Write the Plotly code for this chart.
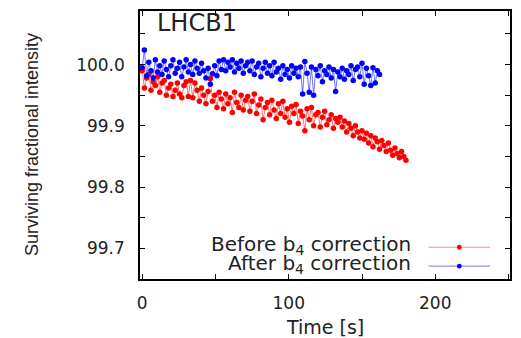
import plotly.graph_objects as go

# ---- data ----
t_before = [i * 1.5 for i in range(121)]          # 0 .. 180 s
before = [99.990, 99.962, 99.978, 99.984, 99.958, 99.972, 99.966, 99.980, 99.955, 99.970,
          99.974, 99.950, 99.962, 99.968, 99.948, 99.958, 99.970, 99.952, 99.946, 99.966,
          99.972, 99.948, 99.974, 99.946, 99.970, 99.958, 99.940, 99.962, 99.950, 99.936,
          99.956, 99.977, 99.940, 99.950, 99.930, 99.955, 99.944, 99.928, 99.952, 99.936,
          99.946, 99.922, 99.955, 99.938, 99.930, 99.950, 99.926, 99.942, 99.948, 99.924,
          99.940, 99.952, 99.920, 99.934, 99.944, 99.910, 99.930, 99.938, 99.918, 99.942,
          99.926, 99.912, 99.936, 99.920, 99.940, 99.914, 99.928, 99.906, 99.932, 99.920,
          99.935, 99.904, 99.924, 99.916, 99.892, 99.928, 99.910, 99.930, 99.900, 99.918,
          99.922, 99.898, 99.914, 99.924, 99.902, 99.910, 99.918, 99.896, 99.912, 99.906,
          99.914, 99.898, 99.908, 99.890, 99.904, 99.896, 99.884, 99.900, 99.890, 99.880,
          99.892, 99.878, 99.888, 99.872, 99.884, 99.866, 99.880, 99.874, 99.862, 99.876,
          99.868, 99.858, 99.872, 99.860, 99.852, 99.864, 99.855, 99.848, 99.858, 99.850,
          99.844]
t_after = [i * 1.5 for i in range(109)]           # 0 .. 162 s
after = [99.995, 100.024, 99.982, 100.004, 99.990, 99.978, 100.008, 99.988, 99.998, 99.984,
         100.006, 99.992, 99.980, 99.998, 100.008, 99.986, 99.994, 100.004, 99.980, 99.996,
         100.008, 99.988, 100.000, 99.984, 100.006, 99.994, 99.986, 100.002, 99.990, 99.978,
         99.994, 99.968, 99.985, 99.998, 99.982, 100.006, 99.992, 100.008, 99.990, 100.004,
         99.996, 100.008, 99.988, 100.002, 99.994, 100.006, 99.986, 99.998, 100.004, 99.990,
         100.006, 99.984, 99.996, 100.002, 99.980, 99.994, 100.004, 99.986, 99.998, 99.982,
         100.004, 99.988, 99.994, 99.976, 99.998, 99.984, 99.992, 99.978, 99.998, 99.986,
         99.994, 99.980, 99.996, 99.952, 100.005, 99.986, 99.955, 99.996, 99.950, 99.992,
         99.982, 99.998, 99.972, 99.990, 99.984, 99.996, 99.978, 99.992, 99.956, 99.988,
         99.980, 99.994, 99.976, 99.990, 99.984, 99.998, 99.974, 99.992, 99.996, 99.980,
         100.002, 99.968, 99.994, 99.982, 99.966, 99.995, 99.970, 99.990, 99.984]
y_ticks = [99.7, 99.8, 99.9, 100.0]
x_ticks = [0, 100, 200]
labels = ["Before b<sub>4</sub> correction", "After b<sub>4</sub> correction"]

H_FONT = "DejaVu Sans"
V_FONT = "Liberation Sans"

fig = go.Figure()
fig.add_trace(go.Scatter(x=t_before, y=before, mode="lines+markers",
                         line=dict(color="rgba(255,0,0,0.55)", width=1),
                         marker=dict(color="#ff0000", size=5.5), showlegend=False))
fig.add_trace(go.Scatter(x=t_after, y=after, mode="lines+markers",
                         line=dict(color="rgba(0,0,255,0.55)", width=1),
                         marker=dict(color="#0000ff", size=5.5), showlegend=False))

axis_common = dict(showline=True, linecolor="black", linewidth=1.5, mirror="ticks",
                   ticks="inside", ticklen=5, tickcolor="black", showgrid=False,
                   zeroline=False)

fig.update_xaxes(range=[-1.5, 251], tickvals=x_ticks, ticklabelstandoff=8,
                 tickfont=dict(family=H_FONT, size=17, color="#222"),
                 minor=dict(ticks="inside", ticklen=5, dtick=50, tick0=0, tickcolor="black"),
                 **axis_common)
fig.update_yaxes(range=[99.65, 100.0875], tickvals=y_ticks, tickformat=".1f",
                 ticklabelstandoff=10,
                 tickfont=dict(family=H_FONT, size=17, color="#222"),
                 minor=dict(ticks="inside", ticklen=5, dtick=0.05, tick0=0, tickcolor="black"),
                 **axis_common)

annotations = [
    dict(text="Time [s]", xref="paper", yref="paper", x=0.5, y=0, yanchor="middle",
         yshift=-48, showarrow=False, font=dict(family=H_FONT, size=19, color="#222")),
    dict(text="Surviving fractional intensity", xref="paper", yref="paper", x=0, y=0.5,
         xanchor="center", xshift=-108, textangle=-90, showarrow=False,
         font=dict(family=V_FONT, size=18, color="#222")),
    dict(text="LHCB1", xref="paper", yref="paper", x=0.04, y=1, xanchor="left",
         yanchor="middle", yshift=-12, showarrow=False,
         font=dict(family=H_FONT, size=24, color="#222")),
]
leg_y = [0.128, 0.056]
leg_line_y = [0.1185, 0.048]
leg_cols = [("rgba(255,0,0,0.45)", "#ff0000"), ("rgba(0,0,255,0.45)", "#0000ff")]
shapes = []
for lab, ty, ly, (lc, mc) in zip(labels, leg_y, leg_line_y, leg_cols):
    annotations.append(dict(text=lab, xref="paper", yref="paper", x=0.739, y=ty,
                            xanchor="right", yanchor="middle", showarrow=False,
                            font=dict(family=H_FONT, size=20, color="#222")))
    shapes.append(dict(type="line", xref="paper", yref="paper", x0=0.78, x1=0.946,
                       y0=ly, y1=ly, line=dict(color=lc, width=1.2)))
    shapes.append(dict(type="circle", xref="paper", yref="paper",
                       x0=0.863 - 0.0065, x1=0.863 + 0.0065,
                       y0=ly - 0.009, y1=ly + 0.009,
                       fillcolor=mc, line=dict(width=0)))

fig.update_layout(width=521, height=338, margin=dict(l=140, r=9, t=9, b=59),
                  paper_bgcolor="white", plot_bgcolor="white",
                  annotations=annotations, shapes=shapes, showlegend=False)

fig.write_html("out.html")
